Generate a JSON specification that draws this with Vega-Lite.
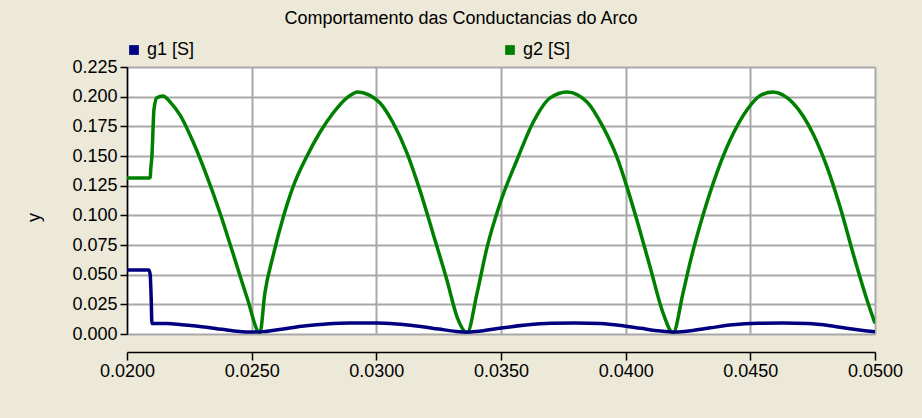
{
  "$schema": "https://vega.github.io/schema/vega-lite/v6.json",
  "width": 748,
  "height": 267,
  "autosize": {"type": "none"},
  "padding": {"left": 127, "top": 67, "right": 47, "bottom": 84},
  "background": "#ECE9D8",
  "title": {
    "text": "Comportamento das Conductancias do Arco",
    "font": "Liberation Sans",
    "fontSize": 18,
    "fontWeight": "normal",
    "color": "#000000",
    "anchor": "middle",
    "frame": "group",
    "dx": -40,
    "offset": 13
  },
  "config": {
    "view": {"fill": "#FFFFFF", "stroke": null},
    "font": "Liberation Sans"
  },
  "data": {
    "values": [
      {"t": 0.0200, "g": 0.1315, "s": "g2 [S]"},
      {"t": 0.02090, "g": 0.1315, "s": "g2 [S]"},
      {"t": 0.02093, "g": 0.1320, "s": "g2 [S]"},
      {"t": 0.02096, "g": 0.141, "s": "g2 [S]"},
      {"t": 0.02100, "g": 0.150, "s": "g2 [S]"},
      {"t": 0.02103, "g": 0.165, "s": "g2 [S]"},
      {"t": 0.02108, "g": 0.189, "s": "g2 [S]"},
      {"t": 0.02120, "g": 0.199, "s": "g2 [S]"},
      {"t": 0.02144, "g": 0.2005, "s": "g2 [S]"},
      {"t": 0.02175, "g": 0.195, "s": "g2 [S]"},
      {"t": 0.02213, "g": 0.1845, "s": "g2 [S]"},
      {"t": 0.02265, "g": 0.162, "s": "g2 [S]"},
      {"t": 0.02321, "g": 0.1326, "s": "g2 [S]"},
      {"t": 0.02373, "g": 0.102, "s": "g2 [S]"},
      {"t": 0.02425, "g": 0.068, "s": "g2 [S]"},
      {"t": 0.02481, "g": 0.031, "s": "g2 [S]"},
      {"t": 0.02533, "g": 0.001, "s": "g2 [S]"},
      {"t": 0.02553, "g": 0.0345, "s": "g2 [S]"},
      {"t": 0.02586, "g": 0.066, "s": "g2 [S]"},
      {"t": 0.02626, "g": 0.098, "s": "g2 [S]"},
      {"t": 0.02666, "g": 0.124, "s": "g2 [S]"},
      {"t": 0.02722, "g": 0.1500, "s": "g2 [S]"},
      {"t": 0.02774, "g": 0.170, "s": "g2 [S]"},
      {"t": 0.02826, "g": 0.186, "s": "g2 [S]"},
      {"t": 0.02882, "g": 0.199, "s": "g2 [S]"},
      {"t": 0.02926, "g": 0.204, "s": "g2 [S]"},
      {"t": 0.02970, "g": 0.2015, "s": "g2 [S]"},
      {"t": 0.03015, "g": 0.1947, "s": "g2 [S]"},
      {"t": 0.03067, "g": 0.178, "s": "g2 [S]"},
      {"t": 0.03123, "g": 0.1525, "s": "g2 [S]"},
      {"t": 0.03175, "g": 0.121, "s": "g2 [S]"},
      {"t": 0.03227, "g": 0.085, "s": "g2 [S]"},
      {"t": 0.03283, "g": 0.0455, "s": "g2 [S]"},
      {"t": 0.03324, "g": 0.0143, "s": "g2 [S]"},
      {"t": 0.03364, "g": 0.001, "s": "g2 [S]"},
      {"t": 0.03404, "g": 0.0345, "s": "g2 [S]"},
      {"t": 0.03444, "g": 0.073, "s": "g2 [S]"},
      {"t": 0.03496, "g": 0.110, "s": "g2 [S]"},
      {"t": 0.03564, "g": 0.1466, "s": "g2 [S]"},
      {"t": 0.03628, "g": 0.178, "s": "g2 [S]"},
      {"t": 0.03697, "g": 0.199, "s": "g2 [S]"},
      {"t": 0.03765, "g": 0.204, "s": "g2 [S]"},
      {"t": 0.03845, "g": 0.1955, "s": "g2 [S]"},
      {"t": 0.03909, "g": 0.1745, "s": "g2 [S]"},
      {"t": 0.03965, "g": 0.149, "s": "g2 [S]"},
      {"t": 0.04005, "g": 0.124, "s": "g2 [S]"},
      {"t": 0.04045, "g": 0.096, "s": "g2 [S]"},
      {"t": 0.04098, "g": 0.0565, "s": "g2 [S]"},
      {"t": 0.04150, "g": 0.0177, "s": "g2 [S]"},
      {"t": 0.04190, "g": 0.001, "s": "g2 [S]"},
      {"t": 0.04230, "g": 0.0345, "s": "g2 [S]"},
      {"t": 0.04258, "g": 0.060, "s": "g2 [S]"},
      {"t": 0.04310, "g": 0.100, "s": "g2 [S]"},
      {"t": 0.04366, "g": 0.136, "s": "g2 [S]"},
      {"t": 0.04418, "g": 0.163, "s": "g2 [S]"},
      {"t": 0.04487, "g": 0.189, "s": "g2 [S]"},
      {"t": 0.04540, "g": 0.201, "s": "g2 [S]"},
      {"t": 0.04591, "g": 0.204, "s": "g2 [S]"},
      {"t": 0.04671, "g": 0.1947, "s": "g2 [S]"},
      {"t": 0.04751, "g": 0.169, "s": "g2 [S]"},
      {"t": 0.04807, "g": 0.141, "s": "g2 [S]"},
      {"t": 0.04860, "g": 0.107, "s": "g2 [S]"},
      {"t": 0.04912, "g": 0.068, "s": "g2 [S]"},
      {"t": 0.04968, "g": 0.0287, "s": "g2 [S]"},
      {"t": 0.05000, "g": 0.009, "s": "g2 [S]"},
      {"t": 0.0200, "g": 0.0540, "s": "g1 [S]"},
      {"t": 0.02088, "g": 0.0540, "s": "g1 [S]"},
      {"t": 0.02093, "g": 0.0500, "s": "g1 [S]"},
      {"t": 0.02097, "g": 0.0300, "s": "g1 [S]"},
      {"t": 0.02100, "g": 0.0088, "s": "g1 [S]"},
      {"t": 0.0216, "g": 0.0088, "s": "g1 [S]"},
      {"t": 0.0222, "g": 0.0078, "s": "g1 [S]"},
      {"t": 0.0230, "g": 0.0062, "s": "g1 [S]"},
      {"t": 0.0238, "g": 0.0040, "s": "g1 [S]"},
      {"t": 0.0245, "g": 0.0022, "s": "g1 [S]"},
      {"t": 0.0250, "g": 0.0017, "s": "g1 [S]"},
      {"t": 0.0255, "g": 0.0020, "s": "g1 [S]"},
      {"t": 0.0262, "g": 0.0040, "s": "g1 [S]"},
      {"t": 0.0270, "g": 0.0065, "s": "g1 [S]"},
      {"t": 0.0280, "g": 0.0085, "s": "g1 [S]"},
      {"t": 0.0290, "g": 0.0093, "s": "g1 [S]"},
      {"t": 0.0300, "g": 0.0093, "s": "g1 [S]"},
      {"t": 0.0308, "g": 0.0085, "s": "g1 [S]"},
      {"t": 0.0316, "g": 0.0068, "s": "g1 [S]"},
      {"t": 0.0325, "g": 0.0042, "s": "g1 [S]"},
      {"t": 0.0332, "g": 0.0022, "s": "g1 [S]"},
      {"t": 0.0337, "g": 0.0017, "s": "g1 [S]"},
      {"t": 0.0342, "g": 0.0025, "s": "g1 [S]"},
      {"t": 0.0350, "g": 0.0050, "s": "g1 [S]"},
      {"t": 0.0360, "g": 0.0075, "s": "g1 [S]"},
      {"t": 0.0370, "g": 0.0090, "s": "g1 [S]"},
      {"t": 0.0380, "g": 0.0093, "s": "g1 [S]"},
      {"t": 0.0390, "g": 0.0088, "s": "g1 [S]"},
      {"t": 0.0398, "g": 0.0072, "s": "g1 [S]"},
      {"t": 0.0406, "g": 0.0048, "s": "g1 [S]"},
      {"t": 0.0414, "g": 0.0025, "s": "g1 [S]"},
      {"t": 0.0420, "g": 0.0017, "s": "g1 [S]"},
      {"t": 0.0426, "g": 0.0027, "s": "g1 [S]"},
      {"t": 0.0434, "g": 0.0052, "s": "g1 [S]"},
      {"t": 0.0443, "g": 0.0077, "s": "g1 [S]"},
      {"t": 0.0453, "g": 0.0090, "s": "g1 [S]"},
      {"t": 0.0463, "g": 0.0093, "s": "g1 [S]"},
      {"t": 0.0473, "g": 0.0088, "s": "g1 [S]"},
      {"t": 0.0482, "g": 0.0070, "s": "g1 [S]"},
      {"t": 0.0490, "g": 0.0045, "s": "g1 [S]"},
      {"t": 0.0496, "g": 0.0028, "s": "g1 [S]"},
      {"t": 0.0500, "g": 0.0018, "s": "g1 [S]"}
    ]
  },
  "mark": {"type": "line", "strokeWidth": 3.5, "clip": true, "interpolate": "monotone"},
  "encoding": {
    "x": {
      "field": "t",
      "type": "quantitative",
      "scale": {"domain": [0.02, 0.05], "nice": false, "zero": false},
      "axis": {
        "title": null,
        "values": [0.02, 0.025, 0.03, 0.035, 0.04, 0.045, 0.05],
        "format": ".4f",
        "offset": 18,
        "domainColor": "#000000",
        "domainWidth": 1.5,
        "tickColor": "#000000",
        "tickWidth": 1.5,
        "tickSize": 8,
        "labelFont": "Liberation Sans",
        "labelFontSize": 18,
        "labelColor": "#000000",
        "labelPadding": 2,
        "labelFlush": false,
        "grid": true,
        "gridColor": "#A8A8A8",
        "gridWidth": 2
      }
    },
    "y": {
      "field": "g",
      "type": "quantitative",
      "scale": {"domain": [0, 0.225], "nice": false},
      "axis": {
        "title": "y",
        "titleFont": "Liberation Sans",
        "titleFontSize": 18,
        "titleFontWeight": "normal",
        "titleColor": "#000000",
        "titleX": -93,
        "titleY": 150,
        "titleAlign": "center",
        "titleBaseline": "middle",
        "values": [0, 0.025, 0.05, 0.075, 0.1, 0.125, 0.15, 0.175, 0.2, 0.225],
        "format": ".3f",
        "domainColor": "#000000",
        "domainWidth": 1.5,
        "tickColor": "#000000",
        "tickWidth": 1.5,
        "tickSize": 7,
        "labelFont": "Liberation Sans",
        "labelFontSize": 18,
        "labelColor": "#000000",
        "labelPadding": 3,
        "labelFlush": false,
        "grid": true,
        "gridColor": "#A8A8A8",
        "gridWidth": 2
      }
    },
    "color": {
      "field": "s",
      "type": "nominal",
      "scale": {"domain": ["g1 [S]", "g2 [S]"], "range": ["#000080", "#008000"]},
      "legend": {
        "title": null,
        "orient": "none",
        "legendX": -2,
        "legendY": -26,
        "direction": "horizontal",
        "columns": 2,
        "gridAlign": "all",
        "columnPadding": 306,
        "padding": 0,
        "symbolType": "square",
        "symbolSize": 95,
        "symbolStrokeWidth": 0,
        "symbolOpacity": 1,
        "labelFont": "Liberation Sans",
        "labelFontSize": 18,
        "labelColor": "#000000",
        "labelOffset": 4,
        "encode": {
          "symbols": {
            "update": {
              "fill": {"scale": "color", "field": "value"},
              "stroke": {"value": "transparent"}
            }
          }
        }
      }
    }
  }
}
